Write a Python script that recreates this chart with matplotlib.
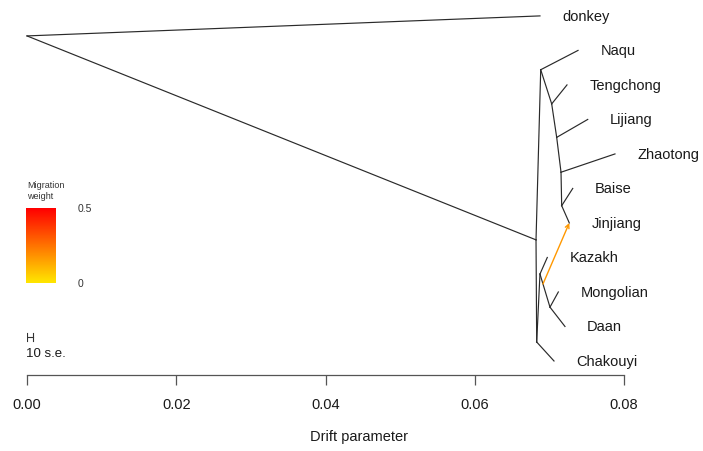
import numpy as np
import matplotlib.pyplot as plt
from matplotlib.colors import LinearSegmentedColormap

plt.rcParams['font.family'] = ['Liberation Sans', 'DejaVu Sans']

# tree nodes: name -> (drift, vertical position)
nodes = {
    'root': (0.0, 9.42),
    'A': (0.06821, 3.51),
    'N1': (0.06884, 8.44),
    'N2': (0.07031, 7.45),
    'N3': (0.07098, 6.48),
    'N4': (0.07156, 5.47),
    'N5': (0.07165, 4.50),
    'C': (0.06830, 0.55),
    'K': (0.06874, 2.52),
    'M': (0.07008, 1.56),
    'donkey': (0.06874, 10),
    'Naqu': (0.07384, 9),
    'Tengchong': (0.07236, 8),
    'Lijiang': (0.07514, 7),
    'Zhaotong': (0.07879, 6),
    'Baise': (0.07313, 5),
    'Jinjiang': (0.07267, 4),
    'Kazakh': (0.06972, 3),
    'Mongolian': (0.07120, 2),
    'Daan': (0.07209, 1),
    'Chakouyi': (0.07062, 0),
}
edges = [
    ('root', 'donkey'), ('root', 'A'),
    ('A', 'N1'), ('N1', 'Naqu'), ('N1', 'N2'), ('N2', 'Tengchong'),
    ('N2', 'N3'), ('N3', 'Lijiang'), ('N3', 'N4'), ('N4', 'Zhaotong'),
    ('N4', 'N5'), ('N5', 'Baise'), ('N5', 'Jinjiang'),
    ('A', 'C'), ('C', 'Chakouyi'), ('C', 'K'), ('K', 'Kazakh'),
    ('K', 'M'), ('M', 'Mongolian'), ('M', 'Daan'),
]
leaves = ['donkey', 'Naqu', 'Tengchong', 'Lijiang', 'Zhaotong', 'Baise',
          'Jinjiang', 'Kazakh', 'Mongolian', 'Daan', 'Chakouyi']

# migration edge: from 30% along K->M to Jinjiang
mig_from = ('K', 'M', 0.30)
mig_to = 'Jinjiang'
mig_weight = 0.17

ticks = [0.00, 0.02, 0.04, 0.06, 0.08]
se_bar = 0.0008

fig = plt.figure(figsize=(7.03, 4.52), dpi=100)
ax = fig.add_axes([27 / 703, 76 / 452, 597 / 703, 366 / 452])
ax.set_xlim(0, 0.08)
ax.set_ylim(-0.406, 10.2)

for a, b in edges:
    (x0, y0), (x1, y1) = nodes[a], nodes[b]
    ax.plot([x0, x1], [y0, y1], color='#2a2a2a', lw=0.85, clip_on=False)

for name in leaves:
    x, y = nodes[name]
    ax.annotate(name, (x, y), xytext=(16, 0), textcoords='offset points',
                va='center', ha='left', fontsize=10.5, color='#1a1a1a')

cmap = LinearSegmentedColormap.from_list('mig', ['#ffe600', '#ff0000'])
a, b, f = mig_from
sx = nodes[a][0] + f * (nodes[b][0] - nodes[a][0])
sy = nodes[a][1] + f * (nodes[b][1] - nodes[a][1])
tx, ty = nodes[mig_to]
ax.annotate('', xy=(tx, ty), xytext=(sx, sy),
            arrowprops=dict(arrowstyle='->', color=cmap(mig_weight / 0.5),
                            lw=1.0, shrinkA=0, shrinkB=0,
                            mutation_scale=7))

# migration weight legend
grad = np.linspace(1, 0, 100).reshape(-1, 1)
lax = fig.add_axes([26 / 703, (452 - 284) / 452, 30 / 703, 75 / 452])
lax.imshow(grad, cmap=cmap, aspect='auto', vmin=0, vmax=1)
lax.set_axis_off()
fig.text(27 / 703, 1 - 191 / 452, 'Migration\nweight', fontsize=6.5,
         color='#333333', va='center', ha='left', linespacing=1.3)
fig.text(78 / 703, 1 - 209 / 452, '0.5', fontsize=7.5, color='#333333',
         va='center')
fig.text(78 / 703, 1 - 284 / 452, '0', fontsize=7.5, color='#333333',
         va='center')

# 10 s.e. bar
ybar = (362 - 338) / 34.5
hb = 0.12
ax.plot([0, se_bar], [ybar, ybar], color='#333333', lw=0.8)
ax.plot([0, 0], [ybar - hb, ybar + hb], color='#333333', lw=0.8)
ax.plot([se_bar, se_bar], [ybar - hb, ybar + hb], color='#333333', lw=0.8)
ax.text(-0.0002, (362 - 354) / 34.5, '10 s.e.', fontsize=9.5, va='center',
        ha='left', color='#1a1a1a')

for s in ['top', 'right', 'left']:
    ax.spines[s].set_visible(False)
ax.spines['bottom'].set_color('#555555')
ax.spines['bottom'].set_linewidth(0.9)
ax.set_yticks([])
ax.set_xticks(ticks)
ax.set_xticklabels(['%.2f' % t for t in ticks])
ax.tick_params(axis='x', length=7, width=0.9, color='#555555', pad=9,
               labelsize=10.5, labelcolor='#1a1a1a')
ax.set_xlabel('Drift parameter', fontsize=10.5, color='#1a1a1a')
ax.xaxis.set_label_coords((359 - 27) / 597, -0.148)

fig.savefig('out.png', dpi=100)
